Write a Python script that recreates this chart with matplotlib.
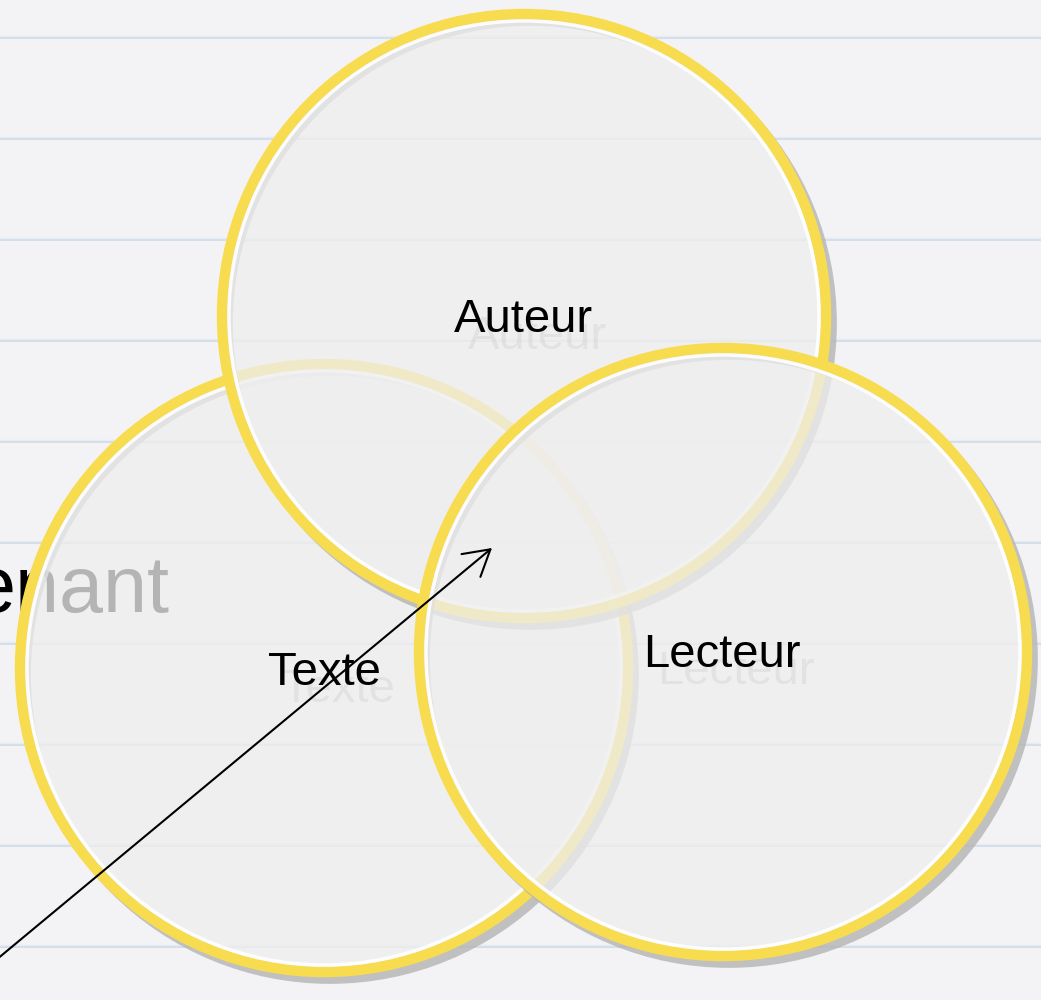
import matplotlib.pyplot as plt
from matplotlib.patches import Circle

# circles, drawn in this order (later ones cover earlier ones)
labels = ["Texte", "Auteur", "Lecteur"]
cx = [324, 524, 723]
cy = [668, 316, 652]
radius = [304, 302, 304]
label_x = [324, 523, 722]
label_y = [673, 320, 655]

line_y = [38, 139, 240, 341, 442, 543, 644, 745, 846, 947]

bg_text = "enant"
arrow_start = (-10, 965)
arrow_end = (492, 548)

fig = plt.figure(figsize=(10.41, 10), dpi=100)
ax = fig.add_axes([0, 0, 1, 1])
ax.set_xlim(0, 1041)
ax.set_ylim(1000, 0)
ax.set_aspect("equal")
ax.axis("off")
fig.patch.set_facecolor("#f3f3f5")

# ruled paper
for y in line_y:
    ax.axhline(y, color="#d0d9e4", lw=1.2, zorder=1)
    ax.axhline(y - 2, color="#e6ecf3", lw=1.0, zorder=1)

ax.text(170, 612, bg_text, fontsize=57, family="Liberation Sans",
        ha="right", va="baseline", color="black", zorder=2)

z = 3
for i in range(len(labels)):
    x, y, r = cx[i], cy[i], radius[i]
    ax.add_patch(Circle((x + 6, y + 7), r, fill=False, ec="#b4b4b4",
                        lw=7, alpha=0.8, zorder=z))
    ax.add_patch(Circle((x, y), r, fc="#eeeeee", ec="none",
                        alpha=0.76, zorder=z + 1))
    ax.add_patch(Circle((x, y), r, fill=False, ec="#f8dc50",
                        lw=7.5, zorder=z + 2))
    ax.add_patch(Circle((x, y), r - 7, fill=False, ec="white",
                        lw=2.5, alpha=0.9, zorder=z + 2))
    z += 3

for i in range(len(labels)):
    ax.text(label_x[i] + 14, label_y[i] + 17, labels[i], fontsize=34,
            family="Liberation Sans", ha="center", va="center",
            color="#000000", alpha=0.05, zorder=20)
    ax.text(label_x[i], label_y[i], labels[i], fontsize=34,
            family="Liberation Sans", ha="center", va="center",
            color="black", zorder=21)

ax.annotate("", xy=arrow_end, xytext=arrow_start,
            arrowprops=dict(arrowstyle="->,head_length=0.65,head_width=0.38",
                            lw=1.5, color="black", mutation_scale=28,
                            shrinkA=0, shrinkB=0),
            zorder=22, annotation_clip=False)

fig.savefig("out.png", dpi=100, facecolor=fig.get_facecolor())
